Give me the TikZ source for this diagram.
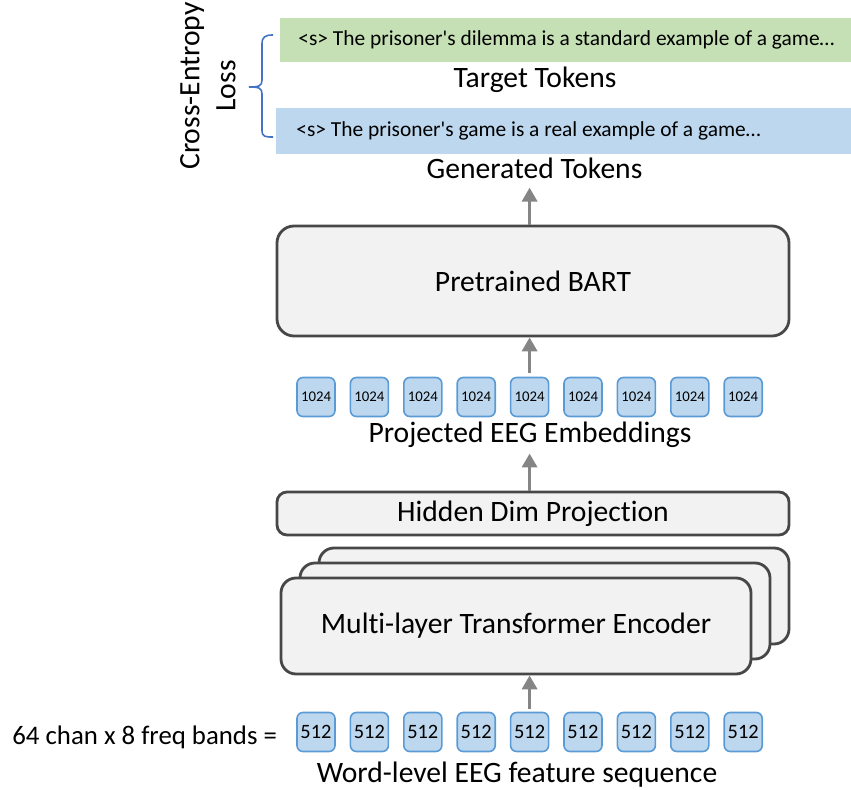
\documentclass[tikz,border=0pt]{standalone}
\usepackage{fontspec}
\setmainfont{Carlito}[Ligatures={TeXOff,NoCommon}]
\usetikzlibrary{arrows.meta}

\begin{document}
\begin{tikzpicture}[x=0.5pt,y=-0.5pt]
  % Local definitions
  \def\sentline#1{\makebox[268pt][l]{#1}}

  % Colors
  \definecolor{boxfill}{HTML}{F2F2F2}
  \definecolor{boxline}{HTML}{474747}
  \definecolor{tokfill}{HTML}{BDD7EE}
  \definecolor{tokline}{HTML}{5B9BD5}
  \definecolor{tgtfill}{HTML}{C5E0B4}
  \definecolor{flowcolor}{HTML}{858585}
  \definecolor{bracecolor}{HTML}{4472C4}

  % Styles
  \tikzstyle{big text}=[font=\fontsize{14.8}{18}\selectfont]
  \tikzstyle{block}=[big text,draw=boxline,fill=boxfill,line width=1.4pt]
  \tikzstyle{token}=[draw=tokline,fill=tokfill,line width=0.8pt,rounded corners=3pt,
    minimum width=19pt,minimum height=19.5pt,inner sep=0pt]
  \tikzstyle{label text}=[big text,inner sep=0pt,anchor=base]
  \tikzstyle{sentence}=[anchor=west,inner ysep=0pt,font=\fontsize{10.7}{12}\selectfont]
  \tikzstyle{flow}=[draw=flowcolor,line width=1.8pt,-{Triangle[width=7.5pt,length=7pt]}]

  \useasboundingbox (0,0) rectangle (851,790);

  % Token sentences and the loss
  \node[sentence,fill=tgtfill,minimum height=22pt,inner xsep=9pt]
    (tgt) at (280,40) {\sentline{<s> The prisoner's dilemma is a standard example of a game…}};
  \node[label text] (target) at (535,88) {Target Tokens};
  \node[sentence,fill=tokfill,minimum height=23pt,inner xsep=10pt]
    (gentok) at (276,131) {\sentline{<s> The prisoner's game is a real example of a game…}};
  \node[label text] (gen) at (534.5,179) {Generated Tokens};

  \draw[bracecolor,line width=0.8pt] (273,35) .. controls (265,35) and (262,37) .. (262,44)
    -- (262,80) .. controls (262,86) and (259,87) .. (249,87)
    .. controls (259,87) and (262,88) .. (262,94)
    -- (262,130) .. controls (262,137) and (265,137) .. (273,137);
  \node[big text,rotate=90,align=center,inner sep=0pt] (loss) at (208,86)
    {Cross-Entropy\\Loss};

  % The model
  \node[block,rounded corners=8.5pt,minimum width=256pt,minimum height=55pt]
    (bart) at (533,281) {Pretrained BART};

  \foreach \i in {1,...,9}
    \node[token,font=\fontsize{7.4}{9}\selectfont] (p\i) at ({316+53.4*(\i-1)},397) {1024};
  \node[label text] (proj) at (530,443) {Projected EEG Embeddings};

  \node[block,rounded corners=5pt,minimum width=256pt,minimum height=21.5pt]
    (hid) at (533,513.5) {Hidden Dim Projection};

  \node[block,rounded corners=7.5pt,minimum width=235pt,minimum height=48pt]
    (enc3) at (554,596) {};
  \node[block,rounded corners=7.5pt,minimum width=235pt,minimum height=48pt]
    (enc2) at (535,611) {};
  \node[block,rounded corners=7.5pt,minimum width=235pt,minimum height=48pt]
    (enc) at (516,626) {Multi-layer Transformer Encoder};

  \foreach \i in {1,...,9}
    \node[token,font=\fontsize{10.2}{12}\selectfont] (w\i) at ({316+53.4*(\i-1)},732) {512};
  \node[label text,anchor=base west,font=\fontsize{13.4}{16}\selectfont]
    (chan) at (12,744) {64 chan x 8 freq bands =};
  \node[label text] (word) at (517,782) {Word-level EEG feature sequence};

  % Arrows
  \draw[flow,shorten <=1.5pt] (w5.north) -- (w5 |- enc.south);
  \draw[flow,shorten >=2.5pt] (hid.north -| w5) -- (w5 |- proj.south);
  \draw[flow,shorten <=2pt] (p5.north) -- (p5 |- bart.south);
  \draw[flow,shorten >=4pt] (bart.north -| p5) -- (p5 |- gen.south);
\end{tikzpicture}
\end{document}
